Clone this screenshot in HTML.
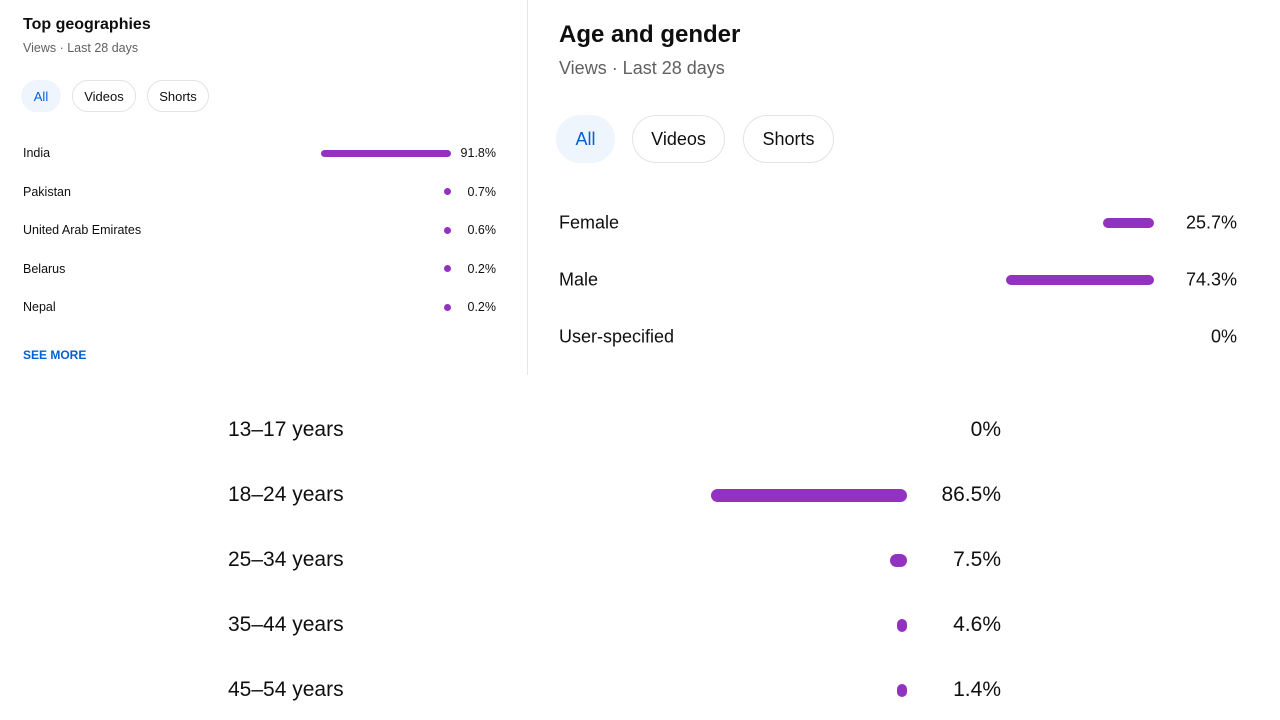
<!DOCTYPE html>
<html><head><meta charset="utf-8">
<style>
body{margin:0;width:1280px;height:720px;background:#fff;font-family:"Liberation Sans",sans-serif;color:#0f0f0f;position:relative;overflow:hidden}
.abs{position:absolute;white-space:nowrap}
.chip{position:absolute;box-sizing:border-box;border:1px solid #e3e3e3;border-radius:999px;display:flex;align-items:center;justify-content:center;color:#0f0f0f;background:#fff}
.chip.sel{background:#eef5fc;border-color:#eef5fc;color:#065fd4}
.bar{position:absolute;background:#9232c1;border-radius:999px}
.lbl{position:absolute;white-space:nowrap;transform:translateY(-50%)}
.val{position:absolute;white-space:nowrap;transform:translate(-100%,-50%);color:#0f0f0f}
</style></head><body>
<div class="abs" style="left:23px;top:16px;font-size:16px;font-weight:bold">Top geographies</div>
<div class="abs" style="left:23px;top:41px;font-size:12.5px;color:#606060">Views · Last 28 days</div>
<div class="chip sel" style="left:21px;top:80px;width:40px;height:32px;font-size:13px">All</div>
<div class="chip" style="left:72px;top:80px;width:64px;height:32px;font-size:13px">Videos</div>
<div class="chip" style="left:147px;top:80px;width:62px;height:32px;font-size:13px">Shorts</div>
<div class="abs" style="left:23px;top:348px;font-size:12px;font-weight:bold;color:#065fd4">SEE MORE</div>
<div class="abs" style="left:527px;top:0;width:1px;height:375px;background:#e5e5e5"></div>

<div class="abs" style="left:559px;top:21px;font-size:24px;font-weight:bold">Age and gender</div>
<div class="abs" style="left:559px;top:58px;font-size:18px;color:#606060">Views · Last 28 days</div>
<div class="chip sel" style="left:556px;top:115px;width:59px;height:48px;font-size:18px">All</div>
<div class="chip" style="left:632px;top:115px;width:93px;height:48px;font-size:18px">Videos</div>
<div class="chip" style="left:743px;top:115px;width:91px;height:48px;font-size:18px">Shorts</div>

<div id="charts"></div>
<script>
const geoCategories=["India","Pakistan","United Arab Emirates","Belarus","Nepal"];
const geoValues=[91.8,0.7,0.6,0.2,0.2];
const genderCategories=["Female","Male","User-specified"];
const genderValues=[25.7,74.3,0];
const ageCategories=["13–17 years","18–24 years","25–34 years","35–44 years","45–54 years"];
const ageValues=[0,86.5,7.5,4.6,1.4];

const root=document.getElementById('charts');
function drawChart(prefix,cats,vals,cfg){
  cats.forEach((c,i)=>{
    const y=cfg.y0+i*cfg.dy;
    const l=document.createElement('div');
    l.className='lbl';
    
    
    l.style.left=cfg.labelX+'px';l.style.top=y+'px';l.style.fontSize=cfg.fs+'px';
    l.textContent=c;root.appendChild(l);
    const v=vals[i];
    if(v>0){
      const w=Math.max(v*cfg.scale,cfg.minW);
      const b=document.createElement('div');
      b.className='bar';
      
      
      b.style.left=(cfg.barEnd-w)+'px';b.style.width=w+'px';
      b.style.top=(y-cfg.h/2)+'px';b.style.height=cfg.h+'px';
      root.appendChild(b);
    }
    const t=document.createElement('div');
    t.className='val';
    
    
    t.style.left=cfg.valX+'px';t.style.top=y+'px';t.style.fontSize=cfg.fs+'px';
    t.textContent=v+'%';root.appendChild(t);
  });
}
drawChart('geo',geoCategories,geoValues,{y0:153,dy:38.5,labelX:23,fs:12.5,scale:1.416,minW:7,h:7,barEnd:451,valX:496});
drawChart('gender',genderCategories,genderValues,{y0:223,dy:57,labelX:559,fs:18,scale:1.99,minW:10,h:10,barEnd:1154,valX:1237});
drawChart('age',ageCategories,ageValues,{y0:430,dy:65,labelX:228,fs:21,scale:2.27,minW:10,h:13,barEnd:907,valX:1001});
</script>
</body></html>
